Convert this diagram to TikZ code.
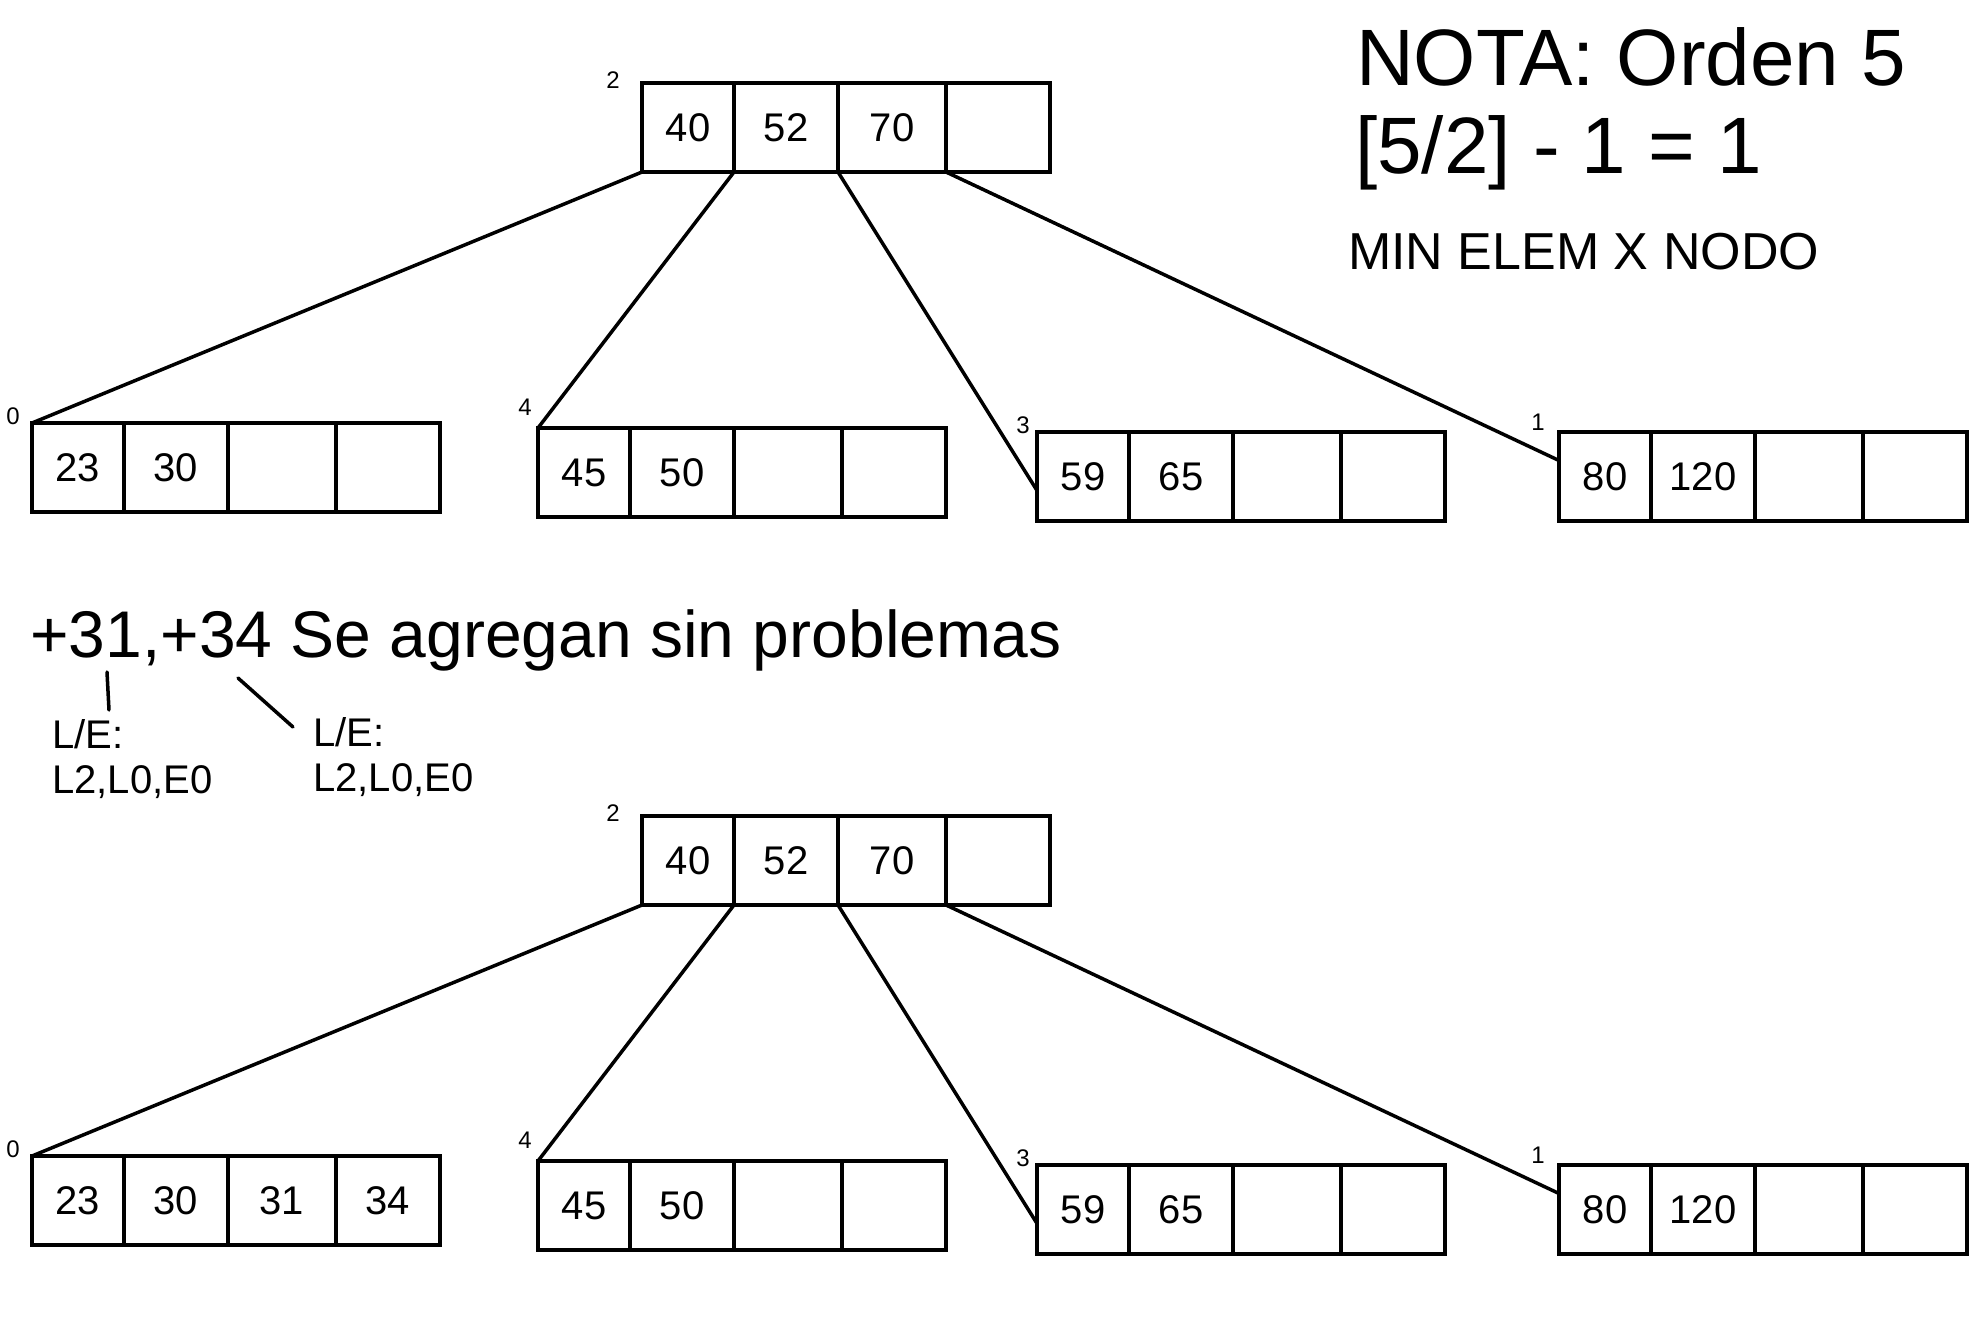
\documentclass[tikz,border=0pt]{standalone}
\usepackage{fontspec}
\setmainfont{Liberation Sans}
\usetikzlibrary{positioning}

% one page of the B-tree: name, top-left corner, four keys
\newcommand{\pagina}[7]{%
  \node[celda, minimum width=92pt, anchor=north west] (#1-1) at (#2,#3) {#4};
  \node[celda, minimum width=104pt, right=0pt of #1-1] (#1-2) {#5};
  \node[celda, minimum width=108pt, right=0pt of #1-2] (#1-3) {#6};
  \node[celda, minimum width=104pt, right=0pt of #1-3] (#1-4) {#7};
}

% whole tree: prefix, third and fourth key of page 0
\newcommand{\arbol}[3]{%
  % root and leaves
  \pagina{#1r}{642}{83}{40}{52}{70}{}
  \pagina{#1h0}{32}{423}{23}{30}{#2}{#3}
  \pagina{#1h4}{538}{428}{45}{50}{}{}
  \pagina{#1h3}{1037}{432}{59}{65}{}{}
  \pagina{#1h1}{1559}{432}{80}{120}{}{}

  % page numbers
  \node[indice] (#1n2) at (613,80) {2};
  \node[indice] (#1n0) at (13,416) {0};
  \node[indice] (#1n4) at (525,407) {4};
  \node[indice] (#1n3) at (1023,425) {3};
  \node[indice] (#1n1) at (1538,422) {1};

  % pointers
  \draw[rama] (#1r-1.south west) -- (#1h0-1.north west);
  \draw[rama] (#1r-2.south west) -- (#1h4-1.north west);
  \draw[rama] (#1r-3.south west) -- ([yshift=-14pt]#1h3-1.west);
  \draw[rama] (#1r-4.south west) -- ([yshift=16pt]#1h1-1.west);
}

\begin{document}
\begin{tikzpicture}[x=1pt, y=-1pt,
  celda/.style={rectangle, draw, line width=4pt, outer sep=0pt, minimum height=89pt, inner sep=0pt, font=\fontsize{40}{48}\selectfont},
  indice/.style={inner sep=0pt, font=\fontsize{24}{28}\selectfont},
  rama/.style={line width=3.5pt, line cap=round}]
\useasboundingbox (0,0) rectangle (1976,1344);

% Note
\node[anchor=base west, inner sep=0pt, font=\fontsize{80}{96}\selectfont] (nota) at (1356,85) {NOTA: Orden 5};
\node[anchor=base west, inner sep=0pt, font=\fontsize{80}{96}\selectfont] (formula) at (1355,173) {[5/2] - 1 = 1};
\node[anchor=base west, inner sep=0pt, font=\fontsize{52}{62}\selectfont] (minelem) at (1348,269) {MIN ELEM X NODO};

% Tree before
\arbol{a}{}{}

% Insertion
\node[anchor=base west, inner sep=0pt, font=\fontsize{66}{80}\selectfont] (insercion) at (30,657) {+31,+34 Se agregan sin problemas};
\node[anchor=north west, inner sep=0pt, align=left, font=\fontsize{40}{45}\selectfont] (acceso1) at (52,719) {L/E:\\L2,L0,E0};
\node[anchor=north west, inner sep=0pt, align=left, font=\fontsize{40}{45}\selectfont] (acceso2) at (313,717) {L/E:\\L2,L0,E0};
\coordinate (m1a) at (107,672);
\coordinate (m1b) at (109,710);
\coordinate (m2a) at (238,678);
\coordinate (m2b) at (293,727);
\draw[rama] (m1a) -- (m1b);
\draw[rama] (m2a) -- (m2b);

% Tree after
\begin{scope}[yshift=-733pt]
\arbol{b}{31}{34}
\end{scope}
\end{tikzpicture}
\end{document}
